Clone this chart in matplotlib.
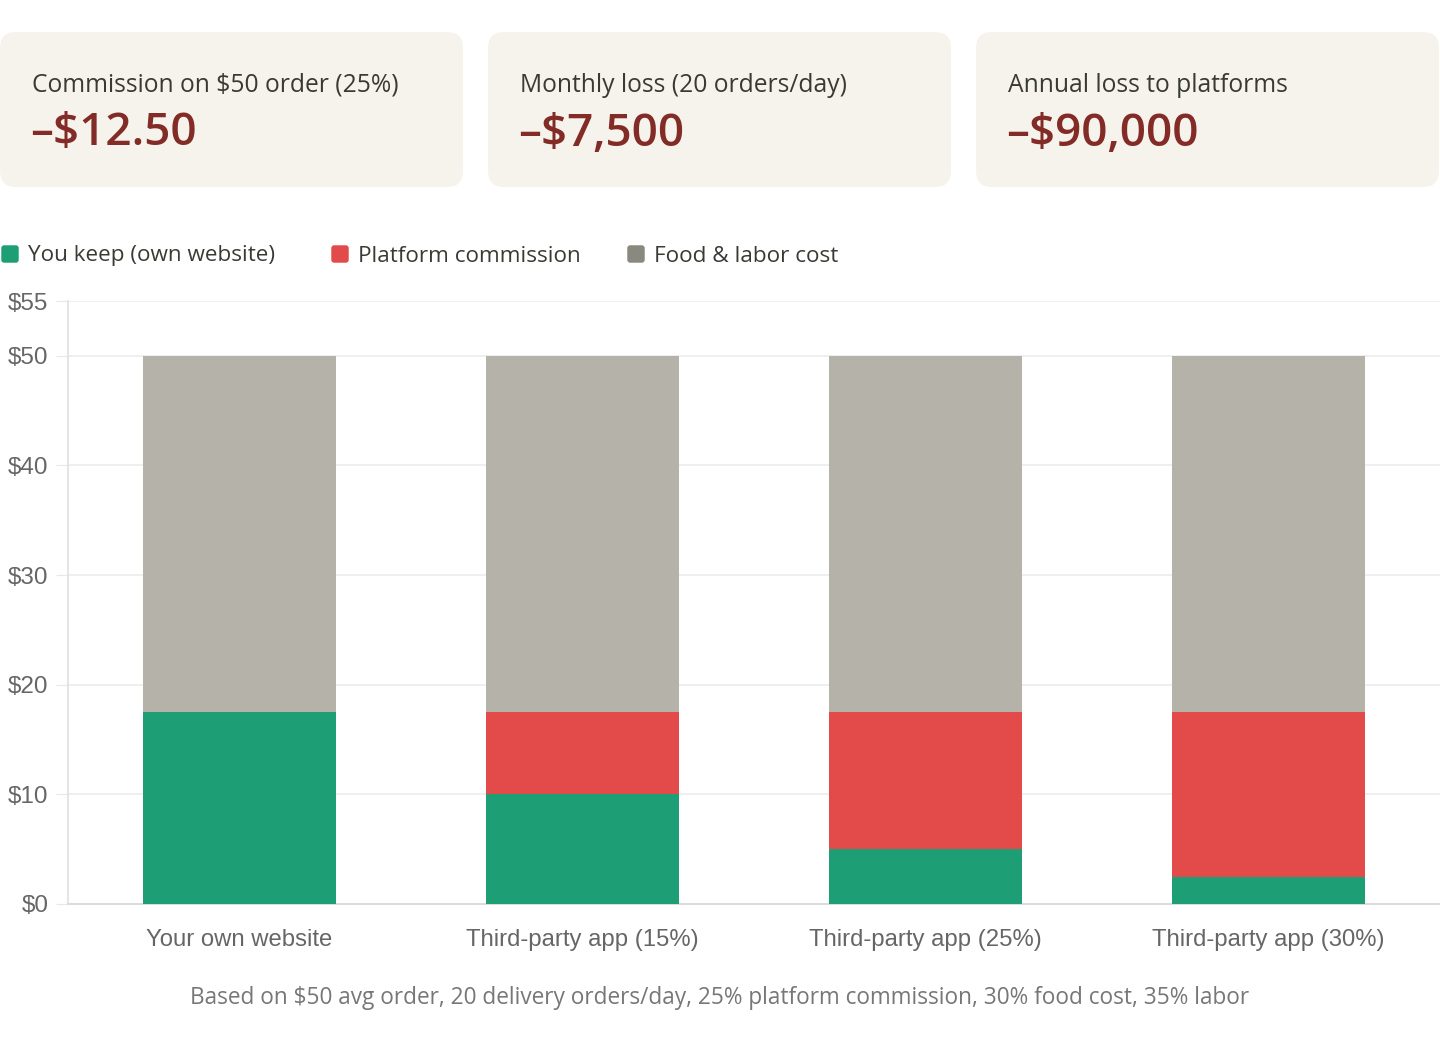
import numpy as np
import matplotlib
matplotlib.use("Agg")
import matplotlib.pyplot as plt
from matplotlib.patches import FancyBboxPatch

# data
categories = ['Your own website', 'Third-party app (15%)', 'Third-party app (25%)', 'Third-party app (30%)']
you_keep = [17.5, 10.0, 5.0, 2.5]
commission = [0.0, 7.5, 12.5, 15.0]
food_labor = [32.5, 32.5, 32.5, 32.5]
series_names = ['You keep (own website)', 'Platform commission', 'Food & labor cost']
yticks = [0, 10, 20, 30, 40, 50, 55]

card_labels = ['Commission on $50 order (25%)', 'Monthly loss (20 orders/day)', 'Annual loss to platforms']
card_values = ['\u2013$12.50', '\u2013$7,500', '\u2013$90,000']
footnote = 'Based on $50 avg order, 20 delivery orders/day, 25% platform commission, 30% food cost, 35% labor'

GREEN = '#1e9e74'
RED = '#e34b4b'
GRAY = '#b5b2aa'
LEG_COLORS = ['#1e9e74', '#e34b4b', '#8a8980']

W, H = 1440, 1040
fig = plt.figure(figsize=(W / 100, H / 100), dpi=100)
fig.patch.set_facecolor('white')

def fx(px):
    return px / W

def fy(py):
    return 1 - py / H

# cards on top
card_x = [0, 488, 976]
for i in range(3):
    x0 = card_x[i]
    box = FancyBboxPatch((fx(x0 + 12), fy(187 - 12)), fx(463 - 24), (155 - 24) / H,
                         boxstyle='round,pad=0.0083,rounding_size=0.011',
                         transform=fig.transFigure, facecolor='#f5f3ec', edgecolor='none',
                         mutation_aspect=W / H)
    fig.patches.append(box)
    fig.text(fx(x0 + 32), fy(85), card_labels[i], fontsize=17.7, color='#3a3a35',
             family='Open Sans', va='center', ha='left')
    fig.text(fx(x0 + 30), fy(134), card_values[i], fontsize=33, color='#832b26',
             family='Open Sans', fontweight='semibold', va='center', ha='left')

# legend (drawn by hand)
leg_x = [1, 331, 627]
for i in range(3):
    sq = FancyBboxPatch((fx(leg_x[i] + 2), fy(261)), fx(14), 14 / H,
                        boxstyle='round,pad=0.0012,rounding_size=0.002',
                        transform=fig.transFigure, facecolor=LEG_COLORS[i], edgecolor='none',
                        mutation_aspect=W / H)
    fig.patches.append(sq)
    fig.text(fx(leg_x[i] + 27), fy(256), series_names[i], fontsize=16.2, color='#3a3a35',
             family='Open Sans', va='center', ha='left')

# chart
ax = fig.add_axes([fx(68), 1 - 904 / H, fx(1372), (904 - 301) / H])
x = np.arange(len(categories))
bw = 0.56
ax.bar(x, you_keep, bw, color=GREEN, zorder=3)
ax.bar(x, commission, bw, bottom=you_keep, color=RED, zorder=3)
bottom2 = [a + b for a, b in zip(you_keep, commission)]
ax.bar(x, food_labor, bw, bottom=bottom2, color=GRAY, zorder=3)

ax.set_xlim(-0.5, 3.5)
ax.set_ylim(0, 55)
ax.set_yticks(yticks)
ax.set_yticklabels(['$%d' % v for v in yticks])
ax.set_xticks(x)
ax.set_xticklabels(categories)
for lab in ax.get_xticklabels():
    lab.set_family('Liberation Sans')
    lab.set_color('#666666')
    lab.set_fontsize(17.2)
for lab in ax.get_yticklabels():
    lab.set_family('Liberation Sans')
    lab.set_color('#666666')
    lab.set_fontsize(17.5)
ax.tick_params(axis='y', length=9, color='#e8e8e8', pad=5)
ax.tick_params(axis='x', length=0, pad=18)
ax.grid(axis='y', color='#ececec', linewidth=1.2, zorder=0)
for s in ['top', 'right']:
    ax.spines[s].set_visible(False)
ax.spines['left'].set_color('#e0e0e0')
ax.spines['bottom'].set_color('#dcdcdc')
ax.spines['left'].set_linewidth(1.2)
ax.spines['bottom'].set_linewidth(1.5)

fig.text(fx(720), fy(998), footnote, fontsize=16.3, color='#777777', family='Open Sans',
         ha='center', va='center')

fig.savefig('out.png', dpi=100, facecolor='white')
